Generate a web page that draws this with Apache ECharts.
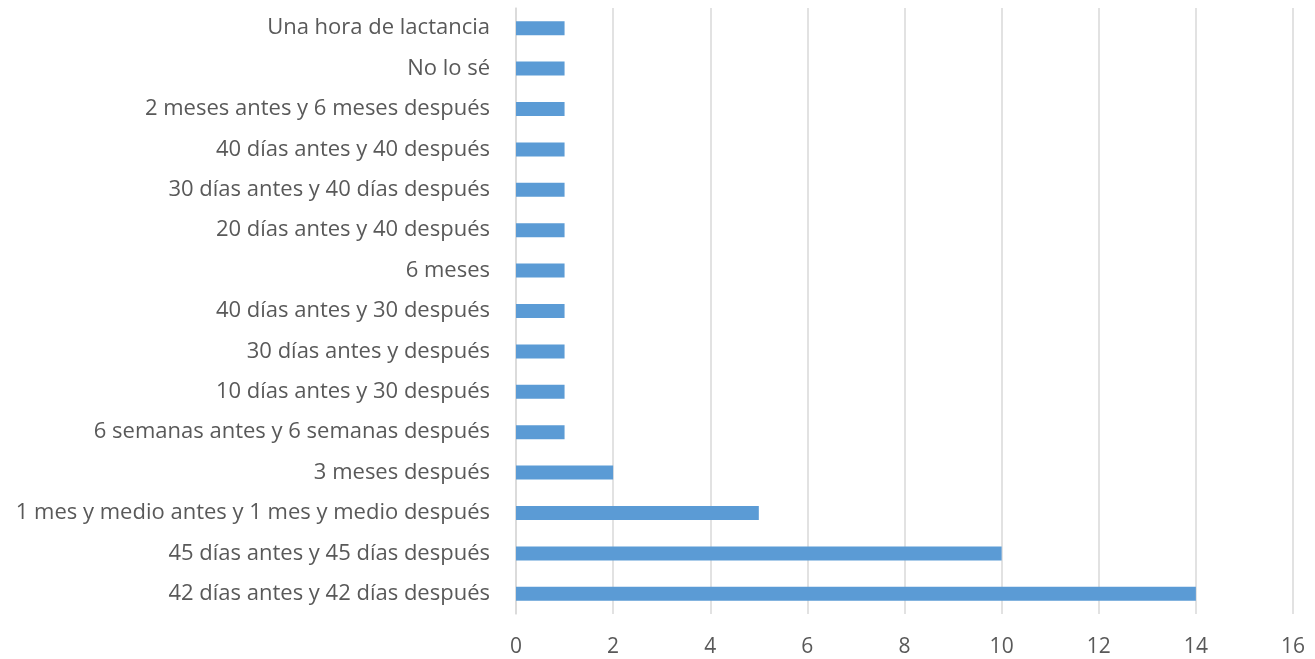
<!DOCTYPE html>
<html>
<head>
<meta charset="utf-8">
<script src="https://cdn.jsdelivr.net/npm/echarts@6/dist/echarts.min.js"></script>
<style>
  html, body { margin: 0; padding: 0; background: #fff; }
  #chart { width: 1315px; height: 659px; }
</style>
</head>
<body>
<div id="chart"></div>
<script>
// categories from bottom to top
const categories = [
  "42 días antes y 42 días después",
  "45 días antes y 45 días después",
  "1 mes y medio antes y 1 mes y medio después",
  "3 meses después",
  "6 semanas antes y 6 semanas después",
  "10 días antes y 30 después",
  "30 días antes y después",
  "40 días antes y 30 después",
  "6 meses",
  "20 días antes y 40 después",
  "30 días antes y 40 días después",
  "40 días antes y 40 después",
  "2 meses antes y 6 meses después",
  "No lo sé",
  "Una hora de lactancia"
];
const values = [14, 10, 5, 2, 1, 1, 1, 1, 1, 1, 1, 1, 1, 1, 1];

const chart = echarts.init(document.getElementById("chart"));
chart.setOption({
  animation: false,
  grid: { left: 516, right: 22, top: 8, bottom: 45, containLabel: false },
  xAxis: {
    type: "value",
    min: 0,
    max: 16,
    interval: 2,
    axisLine: { show: false },
    axisTick: { show: false },
    axisLabel: { color: "#595959", fontSize: 21, fontFamily: "Open Sans", margin: 23 },
    splitLine: { lineStyle: { color: "#d9d9d9", width: 1.5 } }
  },
  yAxis: {
    type: "category",
    data: categories,
    axisLine: { lineStyle: { color: "#d9d9d9", width: 1.5 } },
    axisTick: { show: false },
    axisLabel: {
      color: "#595959", fontSize: 22, fontFamily: "Open Sans", margin: 26,
      padding: [6, 0, 0, 0]
    }
  },
  series: [{
    type: "bar",
    data: values,
    barWidth: 14,
    itemStyle: { color: "#5b9bd5" }
  }]
});
</script>
</body>
</html>
